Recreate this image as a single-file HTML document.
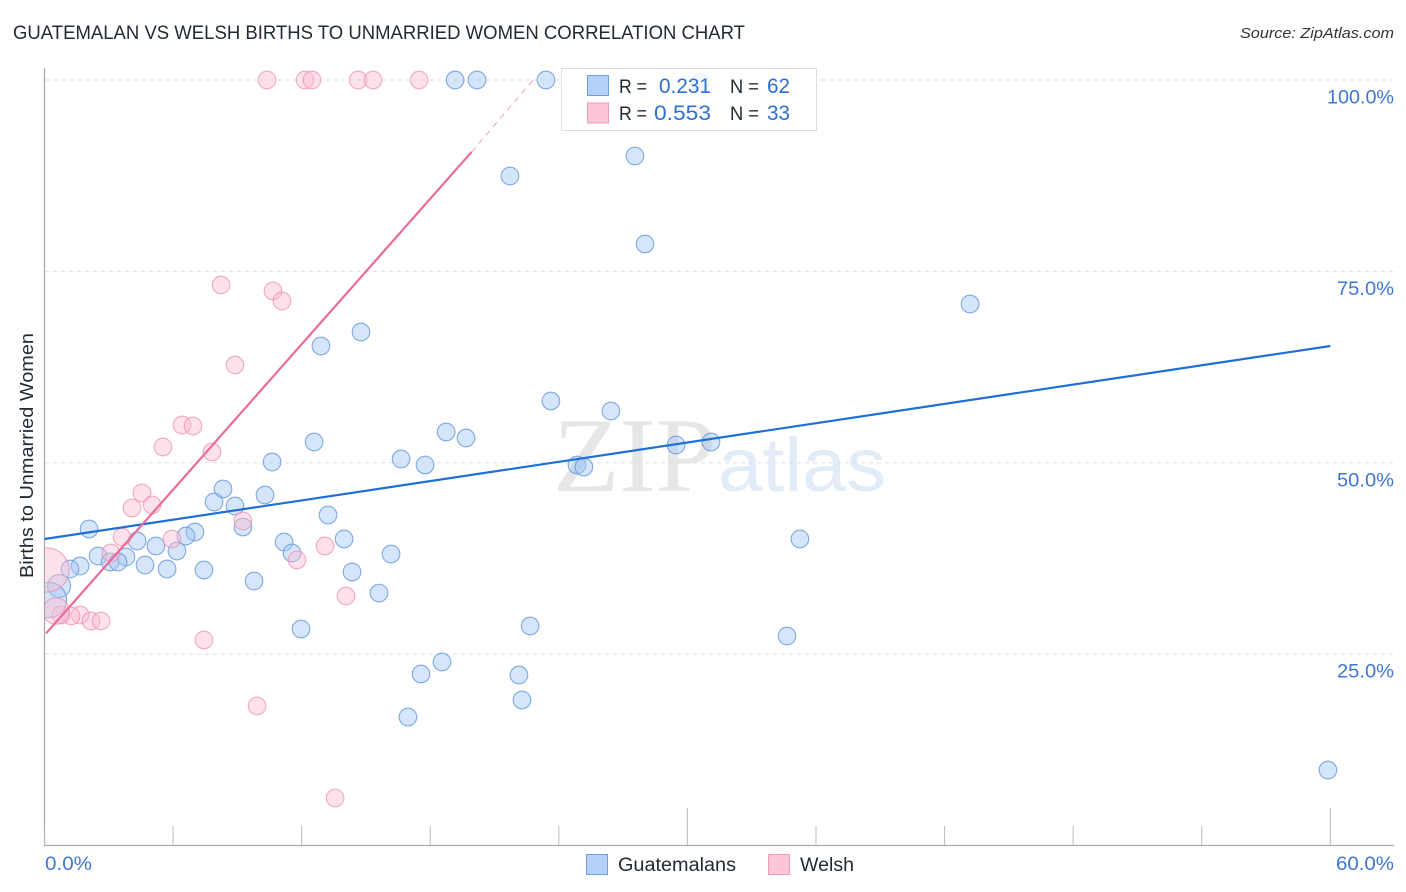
<!DOCTYPE html>
<html><head><meta charset="utf-8"><title>Guatemalan vs Welsh Births to Unmarried Women Correlation Chart</title>
<style>
html,body{margin:0;padding:0;background:#fff;width:1406px;height:892px;overflow:hidden}
svg{display:block}
text{font-family:"Liberation Sans",sans-serif}
</style></head>
<body>
<svg id="chart" xmlns="http://www.w3.org/2000/svg" width="1406" height="892" viewBox="0 0 1406 892">
<defs><clipPath id="plot-clip"><rect x="45" y="60" width="1350" height="785"/></clipPath></defs>
<text x="13" y="39" font-size="19" fill="#222a35" textLength="732" lengthAdjust="spacingAndGlyphs">GUATEMALAN VS WELSH BIRTHS TO UNMARRIED WOMEN CORRELATION CHART</text>
<text x="1240" y="38" font-size="15" font-style="italic" fill="#333" textLength="154" lengthAdjust="spacingAndGlyphs">Source: ZipAtlas.com</text>
<text transform="translate(33,578) rotate(-90)" font-size="18.5" fill="#222a35" textLength="245" lengthAdjust="spacingAndGlyphs">Births to Unmarried Women</text>
<text x="553" y="491" font-size="106" fill="#e6e6e6" style="font-family:'Liberation Serif',serif" textLength="163" lengthAdjust="spacingAndGlyphs">ZIP</text>
<text x="718" y="491" font-size="76" fill="#e2ebf8" textLength="168" lengthAdjust="spacingAndGlyphs">atlas</text>
<g id="grid"></g>
<g id="axes"></g>
<g id="points-a" clip-path="url(#plot-clip)"></g>
<g id="points-b" clip-path="url(#plot-clip)"></g>
<g id="lines"></g>
<g id="tick-labels"></g>
<g>
<rect x="561.5" y="68.5" width="255" height="62" fill="#fff" fill-opacity="0.82" stroke="#ddd"/>
<rect x="587.5" y="75.5" width="21" height="20" fill="#b5d1f7" stroke="#6fa0de"/>
<rect x="587.5" y="103" width="21" height="20" fill="#fcc5d8" stroke="#ef9db9"/>
<text x="619" y="93" font-size="19" fill="#222a35" textLength="28" lengthAdjust="spacingAndGlyphs">R =</text>
<text x="659" y="93" font-size="21" fill="#2f6fd0" textLength="52" lengthAdjust="spacingAndGlyphs">0.231</text>
<text x="730" y="93" font-size="19" fill="#222a35" textLength="29" lengthAdjust="spacingAndGlyphs">N =</text>
<text x="767" y="93" font-size="21" fill="#2f6fd0" textLength="23" lengthAdjust="spacingAndGlyphs">62</text>
<text x="619" y="120" font-size="19" fill="#222a35" textLength="28" lengthAdjust="spacingAndGlyphs">R =</text>
<text x="654" y="120" font-size="21" fill="#2f6fd0" textLength="57" lengthAdjust="spacingAndGlyphs">0.553</text>
<text x="730" y="120" font-size="19" fill="#222a35" textLength="29" lengthAdjust="spacingAndGlyphs">N =</text>
<text x="767" y="120" font-size="21" fill="#2f6fd0" textLength="23" lengthAdjust="spacingAndGlyphs">33</text>
</g>
<g>
<rect x="586.5" y="854.5" width="21" height="20" fill="#b5d1f7" stroke="#6fa0de"/>
<text x="618" y="871" font-size="19" fill="#222a35" textLength="118" lengthAdjust="spacingAndGlyphs">Guatemalans</text>
<rect x="768.5" y="854.5" width="21" height="20" fill="#fcc5d8" stroke="#ef9db9"/>
<text x="800" y="871" font-size="19" fill="#222a35" textLength="54" lengthAdjust="spacingAndGlyphs">Welsh</text>
</g>
</svg>
<script>
const xTickValues = [0, 6, 12, 18, 24, 30, 36, 42, 48, 54, 60];
const xMajorTicks = [30, 60];
const xTickLabels = ["0.0%", "60.0%"];
const yTickValues = [25, 50, 75, 100];
const yTickLabels = ["25.0%", "50.0%", "75.0%", "100.0%"];

const guatemalansX = [19.16,20.18,23.40,30.59,27.55,21.72,28.02,43.19,14.77,12.90,23.63,26.43,18.74,19.67,12.58,29.47,31.10,16.64,17.76,10.62,24.85,25.17,8.33,10.29,7.91,8.89,13.23,9.26,2.08,7.02,6.60,13.98,35.25,11.18,4.32,5.20,6.18,11.55,16.17,2.50,3.80,3.06,3.43,4.69,1.66,1.19,5.72,7.44,14.35,9.78,0.68,15.61,0.21,22.66,11.97,34.65,18.55,17.57,22.14,22.28,16.96,59.89];
const guatemalansY = [100,100,100,99.7,90.07,87.46,78.58,70.74,67.08,65.25,58.07,56.76,54.02,53.23,52.71,52.32,52.71,50.49,49.71,50.10,49.71,49.44,46.57,45.79,44.87,44.35,43.17,41.61,41.35,40.95,40.43,40.04,40.04,39.65,39.78,39.12,38.47,38.21,38.08,37.82,37.69,37.03,37.03,36.64,36.51,36.12,36.12,35.99,35.73,34.55,33.90,32.98,32.07,28.67,28.28,27.37,23.97,22.40,22.27,19.01,16.79,9.86];
const guatemalansSize = [1,1,1,1,1,1,1,1,1,1,1,1,1,1,1,1,1,1,1,1,1,1,1,1,1,1,1,1,1,1,1,1,1,1,1,1,1,1,1,1,1,1,1,1,1,1,1,1,1,1,1.3,1,2,1,1,1,1,1,1,1,1,1];

const welshX = [10.38,12.16,12.48,14.63,15.33,17.48,8.24,10.66,11.08,8.89,6.42,6.93,5.53,7.82,4.55,5.02,4.08,9.26,3.62,5.95,13.09,3.10,11.78,14.07,1.66,2.17,2.64,1.24,0.77,0.54,7.44,9.92,13.56,0.12];
const welshY = [100,100,100,100,100,100,73.22,72.44,71.13,62.77,54.93,54.80,52.06,51.40,46.05,44.48,44.09,42.39,40.30,40.04,39.12,38.21,37.30,32.59,30.11,29.33,29.33,29.98,30.11,30.63,26.85,18.22,6.20,35.99];
const welshSize = [1,1,1,1,1,1,1,1,1,1,1,1,1,1,1,1,1,1,1,1,1,1,1,1,1,1,1,1,1,1.5,1,1,1,2.5];

const guatemalansTrendX = [0, 60];
const guatemalansTrendY = [40.04, 65.25];
const welshTrendX = [0.07, 19.93];
const welshTrendY = [27.7, 90.6];
const welshTrendDashX = [19.93, 22.8];
const welshTrendDashY = [90.6, 100];

const NS = 'http://www.w3.org/2000/svg';
const xScale = v => 44.5 + v * 21.43;
const yScale = v => 845.5 - v * 7.655;
const baseRadius = 8.8;
function make(parent, tag, attrs, text) {
  const el = document.createElementNS(NS, tag);
  for (const k in attrs) el.setAttribute(k, attrs[k]);
  if (text !== undefined) el.textContent = text;
  document.getElementById(parent).appendChild(el);
  return el;
}
yTickValues.forEach((v, i) => {
  const g = make('grid', 'line', {x1: 45, x2: 1394, y1: yScale(v), y2: yScale(v), stroke: '#dedede', 'stroke-width': 1, 'stroke-dasharray': '4 4'});
  
  
  const t = make('tick-labels', 'text', {x: 1394, y: yScale(v) + 23.5, 'font-size': 19.5, fill: '#3f76d3', 'text-anchor': 'end', textLength: 10 * yTickLabels[i].length + 7, lengthAdjust: 'spacingAndGlyphs'}, yTickLabels[i]);
  
  
});
const yAxis = make('axes', 'line', {x1: 44.5, x2: 44.5, y1: 68, y2: 846, stroke: '#aaa', 'stroke-width': 1.3});


const xAxis = make('axes', 'line', {x1: 44, x2: 1394, y1: 845.5, y2: 845.5, stroke: '#aaa', 'stroke-width': 1.3});


xTickValues.forEach(v => {
  const top = xMajorTicks.includes(v) ? 808 : 826;
  const tk = make('axes', 'line', {x1: xScale(v), x2: xScale(v), y1: top, y2: 845, stroke: '#bbb', 'stroke-width': 1});
  
  
});
const xl0 = make('tick-labels', 'text', {x: 45, y: 870, 'font-size': 19.5, fill: '#3f76d3', textLength: 47, lengthAdjust: 'spacingAndGlyphs'}, xTickLabels[0]);


const xl1 = make('tick-labels', 'text', {x: 1394, y: 870, 'font-size': 19.5, fill: '#3f76d3', 'text-anchor': 'end', textLength: 58, lengthAdjust: 'spacingAndGlyphs'}, xTickLabels[1]);



guatemalansX.forEach((v, i) => {
  const c = make('points-a', 'circle', {cx: xScale(v), cy: yScale(guatemalansY[i]), r: baseRadius * guatemalansSize[i], fill: '#a5c8f4', 'fill-opacity': 0.45, stroke: '#6a9bdc', 'stroke-opacity': 0.85, 'stroke-width': 1.1});
  
  
});
welshX.forEach((v, i) => {
  const c = make('points-b', 'circle', {cx: xScale(v), cy: yScale(welshY[i]), r: baseRadius * welshSize[i], fill: '#fbbdd2', 'fill-opacity': 0.45, stroke: '#ee8fb0', 'stroke-opacity': 0.75, 'stroke-width': 1.1});
  
  
});
const l1 = make('lines', 'line', {x1: xScale(guatemalansTrendX[0]), y1: yScale(guatemalansTrendY[0]), x2: xScale(guatemalansTrendX[1]), y2: yScale(guatemalansTrendY[1]), stroke: '#1f6fd8', 'stroke-width': 2.2});


const l2 = make('lines', 'line', {x1: xScale(welshTrendX[0]), y1: yScale(welshTrendY[0]), x2: xScale(welshTrendX[1]), y2: yScale(welshTrendY[1]), stroke: '#ec6a9a', 'stroke-width': 2.2});


const l3 = make('lines', 'line', {x1: xScale(welshTrendDashX[0]), y1: yScale(welshTrendDashY[0]), x2: xScale(welshTrendDashX[1]), y2: yScale(welshTrendDashY[1]), stroke: '#f0a0bc', 'stroke-width': 1, 'stroke-dasharray': '6 5'});


</script>
</body></html>
